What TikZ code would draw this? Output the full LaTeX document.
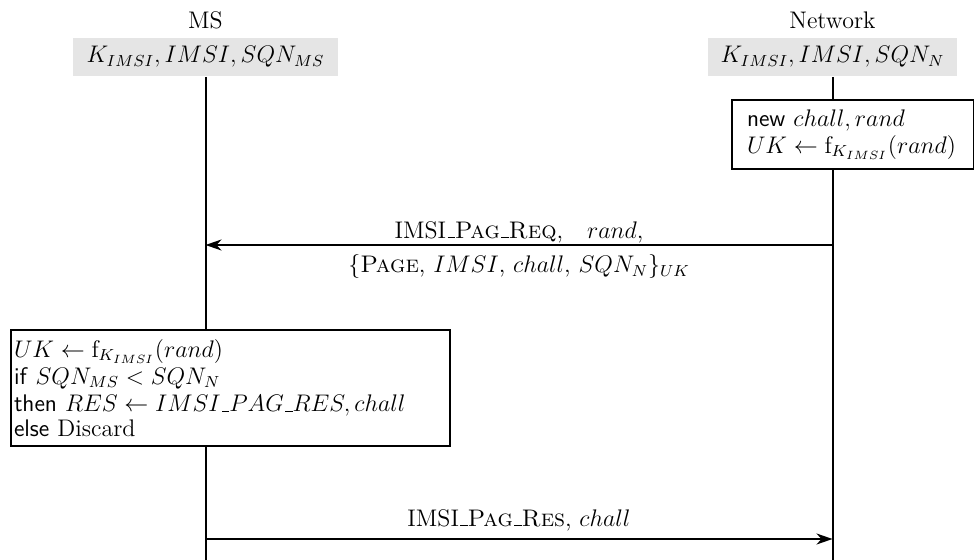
\documentclass[tikz,border=0pt,12pt]{standalone}
\usetikzlibrary{arrows.meta}
\newcommand\usc{\leavevmode\kern.06em\vbox{\hrule width.3em}}
\begin{document}
\begin{tikzpicture}[x=0.5pt,y=-0.5pt, line width=1pt,
  every node/.style={font=\fontsize{12}{12.5}\selectfont},
  init/.style={fill=gray!20, minimum height=19pt, inner sep=0pt},
  procbox/.style={draw, align=left, anchor=north west},
  msg/.style={line width=1pt, -{Stealth[length=8pt,width=5.5pt,inset=2.5pt]}},
  lbl/.style={inner sep=0pt}]
\useasboundingbox (0,0) rectangle (974,560);
% actors
\node (ms) at (205.5,20) {MS};
\node (net) at (832.5,20) {Network};
\node[init, minimum width=132.5pt] (msinit) at (205.5,57) {$K_{IMSI}, IMSI, SQN_{MS}$};
\node[init, minimum width=124.5pt] (netinit) at (832.5,57) {$K_{IMSI}, IMSI, SQN_N$};
% network processing box
\node[procbox, inner xsep=7.5pt, inner ysep=0pt, text width=106pt, minimum height=34.5pt] (netbox) at (731,99)
  {\textsf{new} $chall, rand$\\[1pt] $UK \leftarrow \mathrm{f}_{K_{IMSI}}(rand)$};
% MS processing box
\node[procbox, inner xsep=1.5pt, inner ysep=0pt, text width=216.5pt, minimum height=58pt] (msbox) at (10,329)
  {$UK \leftarrow \mathrm{f}_{K_{IMSI}}(rand)$\\[1pt]
   \textsf{if} $SQN_{MS} < SQN_N$\\[1pt]
   \textsf{then} $RES \leftarrow IMSI\mbox{\usc}PAG\mbox{\usc}RES, chall$\\
   \textsf{else} Discard};
% lifelines
\coordinate (msend) at (205.5,560);
\coordinate (netend) at (832.5,560);
\draw (msinit.south) -- (msinit.south |- msbox.north);
\draw (msinit.south |- msbox.south) -- (msend);
\draw (netinit.south) -- (netinit.south |- netbox.north);
\draw (netinit.south |- netbox.south) -- (netend);
% messages
\coordinate (n1) at (832.5,245);
\coordinate (m1) at (205.5,245);
\draw[msg] (n1) -- (m1)
  node[lbl, midway, yshift=6.5pt] {IMSI\usc\textsc{Pag}\usc\textsc{Req},\quad $rand$,}
  node[lbl, midway, yshift=-11pt] {\{\textsc{Page}, $IMSI$, $chall$, $SQN_N$\}$_{UK}$};
\coordinate (m2) at (205.5,539);
\coordinate (n2) at (832.5,539);
\draw[msg] (m2) -- (n2)
  node[lbl, midway, yshift=9.5pt] {IMSI\usc\textsc{Pag}\usc\textsc{Res}, $chall$};
\end{tikzpicture}
\end{document}
